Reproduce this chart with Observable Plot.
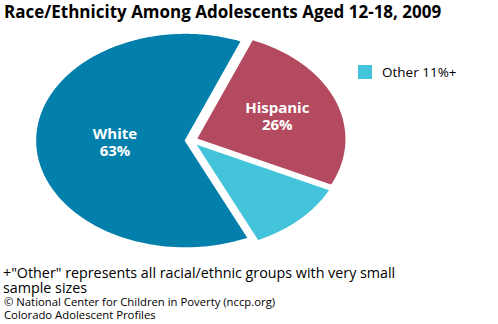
<!DOCTYPE html>
<html>
<head>
<meta charset="utf-8">
<script src="https://cdn.jsdelivr.net/npm/d3@7"></script>
<script src="https://cdn.jsdelivr.net/npm/@observablehq/plot@0.6"></script>
<style>
  html, body { margin: 0; padding: 0; background: #fff; }
  #wrap { position: relative; width: 498px; height: 324px; overflow: hidden; font-family: "Open Sans", sans-serif; color: #000; }
  #title { position: absolute; left: 4px; top: 0px; font-weight: bold; font-size: 17px; white-space: nowrap; }
  #chart { position: absolute; left: 0; top: 0; }
  #legend { position: absolute; left: 358px; top: 63px; font-size: 13.5px; white-space: nowrap; display: flex; align-items: center; }
  #legend .sw { width: 14px; height: 14px; margin-right: 10px; }
  #note { position: absolute; left: 3px; top: 265px; font-size: 14.3px; line-height: 15px; white-space: nowrap; }
  #src { position: absolute; left: 4px; top: 295px; font-size: 11.3px; line-height: 13px; white-space: nowrap; }
</style>
</head>
<body>
<div id="wrap">
  <div id="chart"></div>
  <div id="title"></div>
  <div id="legend"></div>
  <div id="note"></div>
  <div id="src"></div>
</div>
<script>
// ---- data ----
const categories = ["Hispanic", "Other", "White"];
const values = [26, 11, 63];
const colors = ["#b44a5f", "#44c4db", "#037fac"];
const sliceLabels = ["Hispanic\n26%", "", "White\n63%"];
const legendLabels = ["Other 11%+"];
const legendColors = ["#44c4db"];
const title = "Race/Ethnicity Among Adolescents Aged 12-18, 2009";
const noteLines = ["+\"Other\" represents all racial/ethnic groups with very small", "sample sizes"];
const sourceLines = ["\u00a9 National Center for Children in Poverty (nccp.org)", "Colorado Adolescent Profiles"];

// ---- pie geometry (unit circle, y up) ----
const startDeg = 22;
const explode = 0.037;
const pie = d3.pie().sort(null).value(d => d.value)
  .startAngle(startDeg * Math.PI / 180)
  .endAngle(startDeg * Math.PI / 180 + 2 * Math.PI);
const arcs = pie(categories.map((c, i) => ({name: c, value: values[i], label: sliceLabels[i]})));

const pts = [];
const labelPts = [];
arcs.forEach(a => {
  const mid = (a.startAngle + a.endAngle) / 2;
  const ox = explode * Math.sin(mid), oy = explode * Math.cos(mid);
  const n = Math.max(8, Math.ceil((a.endAngle - a.startAngle) * 60));
  pts.push({name: a.data.name, x: ox, y: oy});
  for (let k = 0; k <= n; k++) {
    const t = a.startAngle + (a.endAngle - a.startAngle) * k / n;
    pts.push({name: a.data.name, x: ox + Math.sin(t), y: oy + Math.cos(t)});
  }
  pts.push({name: a.data.name, x: ox, y: oy});
  if (a.data.label) {
    const r = a.data.name === "White" ? 0.47 : 0.58;
    labelPts.push({name: a.data.name, label: a.data.label, x: ox + r * Math.sin(mid), y: oy + r * Math.cos(mid)});
  }
});

const cx = 190.5, cy = 140, rx = 150, ry = 107.5;
const chart = Plot.plot({
  width: 498,
  height: 324,
  margin: 0,
  x: {domain: [-1, 1], range: [cx - rx, cx + rx], axis: null},
  y: {domain: [-1, 1], range: [cy + ry, cy - ry], axis: null},
  color: {domain: categories, range: colors},
  marks: [
    Plot.line(pts, {x: "x", y: "y", z: "name", fill: "name", stroke: "#ffffff", strokeWidth: 1.5, curve: "linear-closed"}),
    Plot.text(labelPts, {x: "x", y: "y", text: "label", fill: "#ffffff", fontWeight: "bold", fontSize: 15, lineHeight: 1.12, fontFamily: "Open Sans"})
  ]
});
document.getElementById("chart").appendChild(chart);

document.getElementById("title").textContent = title;
const lg = document.getElementById("legend");
legendLabels.forEach((t, i) => {
  const sw = document.createElement("div"); sw.className = "sw"; sw.style.background = legendColors[i];
  const sp = document.createElement("span"); sp.textContent = t;
  lg.appendChild(sw); lg.appendChild(sp);
});
document.getElementById("note").innerHTML = noteLines.map(l => `<div>${l.replace(/"/g, "&quot;")}</div>`).join("");
document.getElementById("src").innerHTML = sourceLines.map(l => `<div>${l}</div>`).join("");
</script>
</body>
</html>
